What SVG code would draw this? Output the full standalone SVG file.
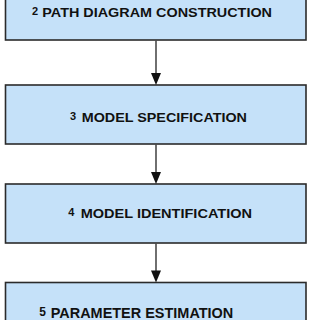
<svg xmlns="http://www.w3.org/2000/svg" width="320" height="320" viewBox="0 0 320 320">
<defs>
<style>
.box{fill:#c5e1f9;stroke:#2b2b2b;stroke-width:1.6}
.t{font-family:"Liberation Sans",Arial,sans-serif;font-weight:bold;fill:#111}
.conn{stroke:#222;stroke-width:1.3;fill:none}
.head{fill:#111}
</style>
</defs>
<rect width="320" height="320" fill="#ffffff"/>
<g id="node2">
<rect class="box" x="5.5" y="-10" width="300.5" height="50"/>
<text class="t" x="32" y="15.2" font-size="11">2</text>
<text class="t" x="42.3" y="17" font-size="13" textLength="229.7" lengthAdjust="spacingAndGlyphs">PATH DIAGRAM CONSTRUCTION</text>
</g>
<g id="node3">
<rect class="box" x="5.5" y="85" width="300.5" height="59"/>
<text class="t" x="70" y="119.8" font-size="11">3</text>
<text class="t" x="81.7" y="122" font-size="13" textLength="165.3" lengthAdjust="spacingAndGlyphs">MODEL SPECIFICATION</text>
</g>
<g id="node4">
<rect class="box" x="5.5" y="184" width="300.5" height="59"/>
<text class="t" x="68.3" y="216.3" font-size="11">4</text>
<text class="t" x="80.7" y="218.3" font-size="12.5" textLength="171.3" lengthAdjust="spacingAndGlyphs">MODEL IDENTIFICATION</text>
</g>
<g id="node5">
<rect class="box" x="5.5" y="282.5" width="300.5" height="60"/>
<text class="t" x="39.3" y="315.7" font-size="12">5</text>
<text class="t" x="50.7" y="318" font-size="14" textLength="182.6" lengthAdjust="spacingAndGlyphs">PARAMETER ESTIMATION</text>
</g>
<g id="connectors">
<line class="conn" x1="156" y1="40.8" x2="156" y2="74"/>
<polygon class="head" points="151,73 161,73 156,85"/>
<line class="conn" x1="156" y1="144.8" x2="156" y2="173"/>
<polygon class="head" points="151,172 161,172 156,184"/>
<line class="conn" x1="156" y1="243.8" x2="156" y2="271"/>
<polygon class="head" points="151,270.5 161,270.5 156,282.5"/>
</g>
</svg>
